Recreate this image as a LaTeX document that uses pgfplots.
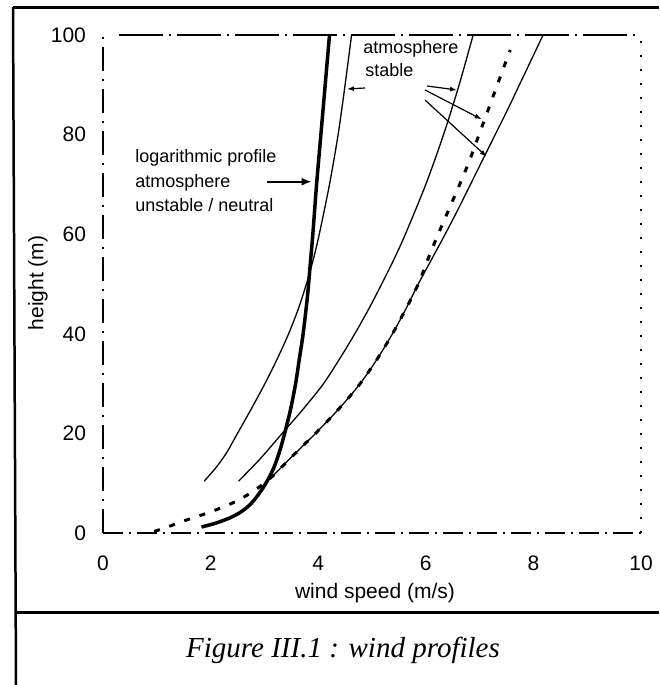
\documentclass[border=0pt]{standalone}
\usepackage{pgfplots}
\pgfplotsset{compat=1.18}
\usepackage{fontspec}
\setmainfont{Liberation Sans}
\newfontfamily\capfont{Liberation Serif}
\usetikzlibrary{arrows.meta}

\begin{document}
\begin{tikzpicture}
\useasboundingbox (0,0) rectangle (329.5pt,-342.5pt);
\begin{axis}[
  at={(51.5pt,-266.5pt)}, anchor=south west,
  scale only axis, width=269pt, height=249pt,
  xmin=0, xmax=10, ymin=0, ymax=100,
  xtick={0,2,4,6,8,10}, ytick={0,20,40,60,80,100},
  major tick length=0pt,
  axis line style={draw=none},
  tick label style={font=\fontsize{10.5}{12}\selectfont},
  /pgf/number format/assume math mode=true,
  xticklabel style={yshift=-8pt},
  yticklabel style={xshift=-5pt},
  clip=false,
]
% axis frame (broken, as in the scan)
\draw[line width=1pt, dash pattern=on 22pt off 3pt on 1pt off 3pt] (axis cs:0.3,100) -- (axis cs:10,100);
\draw[line width=1pt, dash pattern=on 12pt off 4pt on 1pt off 4pt] (axis cs:0,0) -- (axis cs:0,100);
\draw[line width=1pt, dash pattern=on 1pt off 6pt] (axis cs:10,0) -- (axis cs:10,100);
\draw[line width=1pt, dash pattern=on 10pt off 3pt on 1pt off 3pt] (axis cs:0,0) -- (axis cs:10,0);

% logarithmic profile, unstable / neutral (thick)
\addplot[black, line width=1.75pt, smooth] coordinates {
(1.83,1.2) (2.1,2) (2.35,3) (2.53,4) (2.66,5) (2.76,6) (2.86,7.3) (2.97,9)
(3.08,11) (3.19,13.5) (3.30,17) (3.40,21) (3.49,25) (3.58,30) (3.65,35)
(3.72,40) (3.80,47.5) (3.86,55) (3.90,60) (3.97,70) (4.05,80) (4.13,90) (4.21,100)};

% stable profile A
\addplot[black, line width=0.65pt, smooth] coordinates {
(1.88,10.4) (2.09,13) (2.29,16) (2.50,20) (2.76,25) (3.01,30) (3.24,35)
(3.45,40) (3.63,45) (3.78,50) (3.91,55) (4.02,60) (4.21,70) (4.37,80)
(4.50,90) (4.62,100)};

% stable profile B
\addplot[black, line width=0.65pt, smooth] coordinates {
(2.52,10.4) (2.93,15) (3.33,20) (3.73,25) (4.10,30) (4.40,35) (4.68,40)
(4.94,45) (5.18,50) (5.41,55) (5.62,60) (6.00,70) (6.33,80) (6.62,90) (6.88,100)};

% stable profile C
\addplot[black, line width=0.65pt, smooth] coordinates {
(3.14,11.3) (3.30,13) (3.48,15) (3.95,20) (4.39,25) (4.78,30) (5.10,35)
(5.38,40) (5.63,45) (5.86,50) (6.11,55) (6.36,60) (6.60,65) (6.83,70)
(7.06,75) (7.29,80) (7.52,85) (7.74,90) (7.96,95) (8.18,100)};

% dashed profile
\addplot[black, line width=1.5pt, dash pattern=on 3pt off 5pt, smooth] coordinates {
(0.95,0.3) (1.22,1.3) (1.47,2.3) (1.72,3.2) (1.99,4.2) (2.25,5.3) (2.52,6.6)
(2.78,8.3) (3.00,10) (3.14,11.3) (3.30,13) (3.48,15) (3.95,20) (4.39,25)
(4.78,30) (5.10,35) (5.38,40) (5.63,45) (5.86,50) (6.04,55) (6.23,60)
(6.43,65) (6.63,70) (6.82,75) (6.99,80) (7.16,85) (7.33,90) (7.50,95) (7.57,97)};
\end{axis}

\begin{scope}[x=0.5pt,y=-0.5pt]
% outer frame
\draw[line width=1.25pt] (13,7.5) -- (659,7.5);
\draw[line width=1.25pt] (13,7) -- (16,685);
\draw[line width=1.3pt] (15,612.7) -- (659,612.7);

% axis labels
\node[font=\fontsize{10.5}{12}\selectfont] at (375,593) {wind speed (m/s)};
\node[font=\fontsize{10.5}{12}\selectfont, rotate=90] at (38,283) {height (m)};

% caption
\node[font=\capfont\itshape\fontsize{14.5}{17}\selectfont, anchor=base] at (343,657) {Figure III.1 : wind profiles};

% annotations
\node[font=\fontsize{9}{10}\selectfont, anchor=west, inner sep=0pt] at (135,158) {logarithmic profile};
\node[font=\fontsize{9}{10}\selectfont, anchor=west, inner sep=0pt] at (135,183) {atmosphere};
\node[font=\fontsize{9}{10}\selectfont, anchor=west, inner sep=0pt] at (135,205) {unstable / neutral};
\draw[line width=1pt, -{Latex[length=5pt,width=4pt]}] (266.7,181.7) -- (311.7,181.7);

\node[font=\fontsize{9}{10}\selectfont, anchor=west, inner sep=0pt] at (363,48.5) {atmosphere};
\node[font=\fontsize{9}{10}\selectfont, anchor=west, inner sep=0pt] at (365,70) {stable};
\draw[line width=0.6pt, -{Latex[length=3.5pt,width=2.5pt]}] (365,88) -- (347,89);
\draw[line width=0.6pt, -{Latex[length=3.5pt,width=2.5pt]}] (427,86) -- (457,90);
\draw[line width=0.6pt, -{Latex[length=3.5pt,width=2.5pt]}] (425,90) -- (481.7,119.3);
\draw[line width=0.6pt, -{Latex[length=3.5pt,width=2.5pt]}] (425,100) -- (486.7,156.7);
\end{scope}
\end{tikzpicture}
\end{document}
